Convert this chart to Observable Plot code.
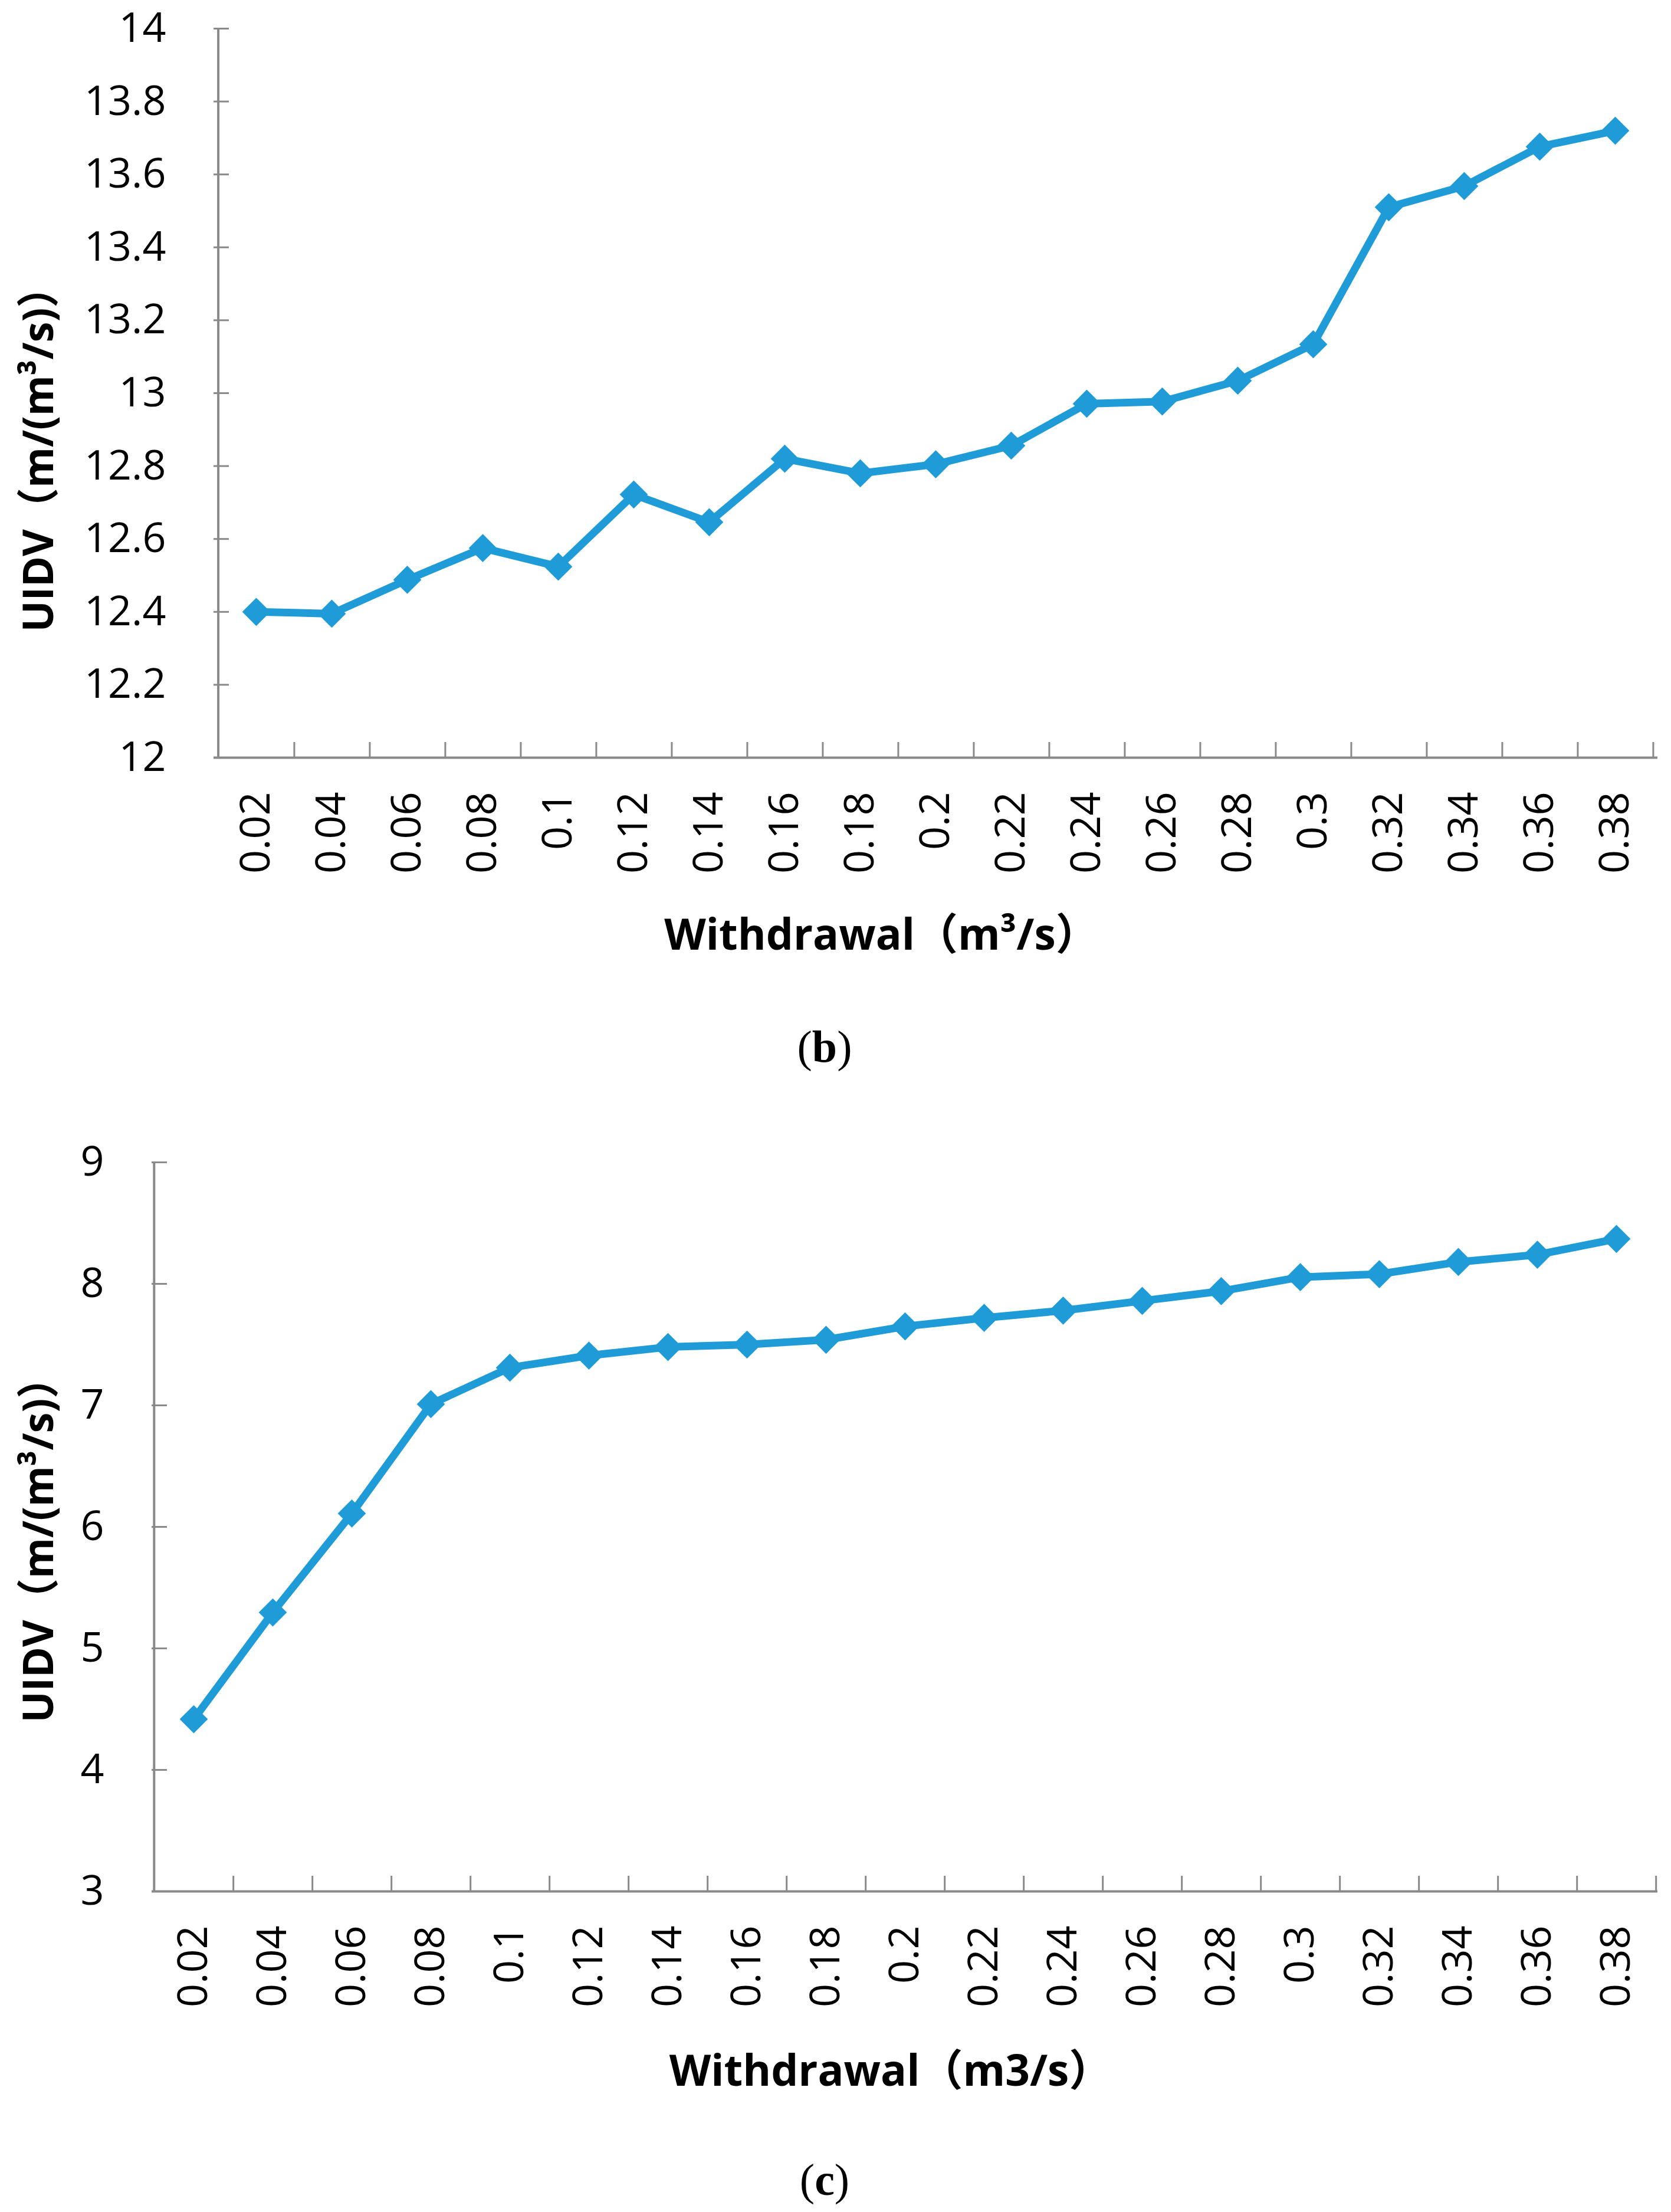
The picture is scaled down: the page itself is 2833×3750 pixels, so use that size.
<!DOCTYPE html>
<html><head><meta charset="utf-8">
<script src="https://cdn.jsdelivr.net/npm/d3@7"></script>
<script src="https://cdn.jsdelivr.net/npm/@observablehq/plot@0.6"></script>
<style>
body{margin:0;background:#fff;}
#page{position:relative;width:2833px;height:3750px;background:#fff;overflow:hidden;}
.panel{position:absolute;left:0;}
.cap{position:absolute;width:1000px;text-align:center;font-family:'Liberation Serif','Times New Roman',serif;font-size:76px;line-height:76px;color:#000;}
</style></head>
<body><div id="page"></div>
<script>
const withdrawal = ["0.02","0.04","0.06","0.08","0.1","0.12","0.14","0.16","0.18","0.2","0.22","0.24","0.26","0.28","0.3","0.32","0.34","0.36","0.38"];
const uidvB = [12.40, 12.395, 12.488, 12.575, 12.524, 12.722, 12.646, 12.82, 12.78, 12.805, 12.856, 12.971, 12.977, 13.034, 13.134, 13.51, 13.568, 13.676, 13.72];
const uidvC = [4.417, 5.296, 6.11, 7.01, 7.31, 7.41, 7.48, 7.50, 7.54, 7.65, 7.72, 7.78, 7.86, 7.94, 8.055, 8.08, 8.18, 8.24, 8.37];
const yTicksB = [12, 12.2, 12.4, 12.6, 12.8, 13, 13.2, 13.4, 13.6, 13.8, 14];
const yTicksC = [3, 4, 5, 6, 7, 8, 9];
const xTitleB = "Withdrawal（m³/s）";
const xTitleC = "Withdrawal（m3/s）";
const yTitle = "UIDV（m/(m³/s)）";

const FONT = "'Open Sans','Noto Sans CJK SC',sans-serif";
const BLUE = "#1f9cd8";
const AXIS = "#898989";

function panel(o) {
  const W = 2833, marginRight = 23;
  const plotW = W - o.marginLeft - marginRight;
  const plotH = o.height - o.marginTop - o.marginBottom;
  const step = plotW / withdrawal.length;
  const data = withdrawal.map((w, i) => ({w, v: o.values[i]}));
  const svg = Plot.plot({
    width: W, height: o.height,
    marginLeft: o.marginLeft, marginRight, marginTop: o.marginTop, marginBottom: o.marginBottom,
    style: {fontFamily: FONT, background: "#fff", color: "#000", overflow: "visible"},
    x: {type: "point", domain: withdrawal, padding: 0.5, label: null},
    y: {domain: [o.yTicks[0], o.yTicks[o.yTicks.length - 1]], label: null},
    marks: [
      Plot.ruleY(o.yTicks, {stroke: AXIS, strokeWidth: 3, insetRight: plotW - 26}),
      Plot.ruleX(withdrawal, {dx: step / 2, stroke: AXIS, strokeWidth: 3, insetTop: plotH - 26}),
      Plot.ruleY([o.yTicks[0]], {stroke: AXIS, strokeWidth: 4}),
      Plot.ruleX([withdrawal[0]], {dx: -step / 2, stroke: AXIS, strokeWidth: 4}),
      Plot.axisY({ticks: o.yTicks, tickSize: 0, tickPadding: 81, fontSize: 70, tickFormat: d => String(d)}),
      Plot.axisX({tickSize: 0, tickPadding: 58, tickRotate: -90, fontSize: 70}),
      Plot.line(data, {x: "w", y: "v", stroke: BLUE, strokeWidth: 13}),
      Plot.dot(data, {x: "w", y: "v", symbol: "diamond2", r: 21.5, fill: BLUE, stroke: "none"}),
      Plot.text([o.xTitle], {text: d => d, frameAnchor: "bottom", textAnchor: "middle", dx: o.xtDx, dy: o.xtDy, fontSize: 73, fontWeight: "bold", lineAnchor: "middle", fill: "#000"}),
      Plot.text([yTitle], {text: d => d, frameAnchor: "left", textAnchor: "middle", rotate: -90, dx: o.ytDx, dy: o.ytDy, fontSize: 72, fontWeight: "bold", lineAnchor: "middle", fill: "#000"})
    ]
  });
  d3.select(svg).selectAll("text")
    .filter(function () { return this.textContent === yTitle; })
    .attr("textLength", 620).attr("lengthAdjust", "spacingAndGlyphs");
  return svg;
}

const page = document.getElementById("page");

const svgB = panel({values: uidvB, yTicks: yTicksB, xTitle: xTitleB, height: 1700,
  marginLeft: 362, marginTop: 48, marginBottom: 416, xtDx: -92, xtDy: 302, ytDx: -296, ytDy: 95});
const wrapB = document.createElement("div");
wrapB.className = "panel"; wrapB.style.top = "0px";
wrapB.appendChild(svgB); page.appendChild(wrapB);

const svgC = panel({values: uidvC, yTicks: yTicksC, xTitle: xTitleC, height: 1700,
  marginLeft: 257, marginTop: 90, marginBottom: 374, xtDx: -24, xtDy: 306, ytDx: -191, ytDy: 22});
const wrapC = document.createElement("div");
wrapC.className = "panel"; wrapC.style.top = "1880px";
wrapC.appendChild(svgC); page.appendChild(wrapC);

const capB = document.createElement("div");
capB.className = "cap"; capB.style.left = "898px"; capB.style.top = "1736px";
capB.innerHTML = "(<b>b</b>)";
page.appendChild(capB);
const capC = document.createElement("div");
capC.className = "cap"; capC.style.left = "898px"; capC.style.top = "3657px";
capC.innerHTML = "(<b>c</b>)";
page.appendChild(capC);
</script>
</body></html>
